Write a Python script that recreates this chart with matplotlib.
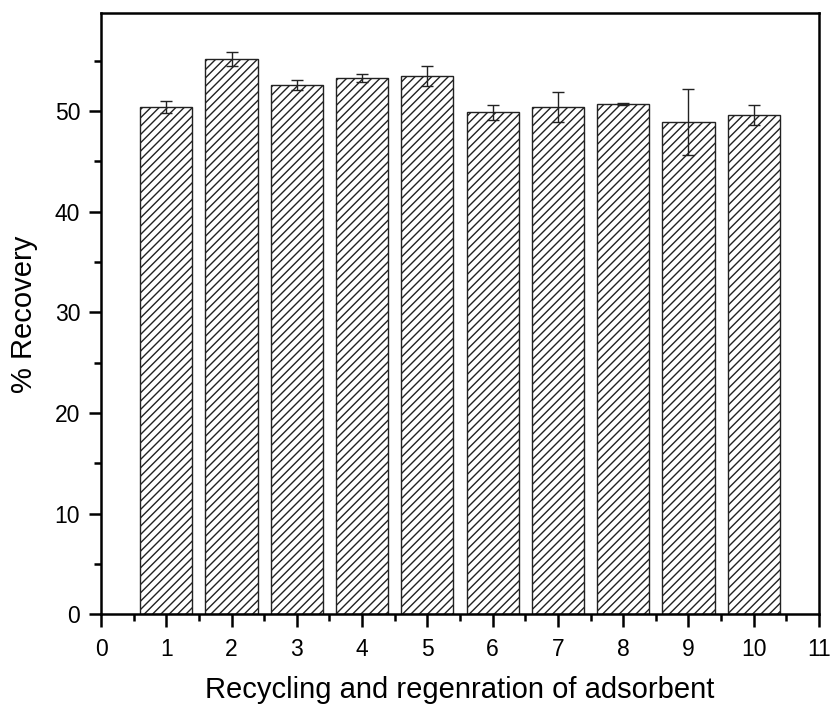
import matplotlib
matplotlib.use("Agg")
import matplotlib.pyplot as plt
from matplotlib.ticker import MultipleLocator

# cycles and % recovery
cycles = [1, 2, 3, 4, 5, 6, 7, 8, 9, 10]
recovery = [50.4, 55.2, 52.55, 53.25, 53.5, 49.9, 50.4, 50.7, 48.9, 49.6]
recovery_err = [0.6, 0.7, 0.5, 0.4, 1.0, 0.75, 1.5, 0.1, 3.3, 1.0]

plt.rcParams['font.family'] = ['Liberation Sans', 'DejaVu Sans']
plt.rcParams['hatch.linewidth'] = 1.0
plt.rcParams['hatch.color'] = '#333333'

fig = plt.figure(figsize=(8.3, 7.09), dpi=100)
ax = fig.add_axes([0.1217, 0.1333, 0.865, 0.8477])

ax.bar(cycles, recovery, width=0.8, color='white', edgecolor='#222222',
       linewidth=1.0, hatch='////')
ax.errorbar(cycles, recovery, yerr=recovery_err, fmt='none', ecolor='#222222',
            elinewidth=1.0, capsize=4.5, capthick=1.0)

ax.set_xlim(0, 11)
ax.set_ylim(0, 59.7)
ax.xaxis.set_major_locator(MultipleLocator(1))
ax.xaxis.set_minor_locator(MultipleLocator(0.5))
ax.yaxis.set_major_locator(MultipleLocator(10))
ax.yaxis.set_minor_locator(MultipleLocator(5))

for s in ax.spines.values():
    s.set_linewidth(1.8)
ax.tick_params(which='major', direction='out', length=9, width=1.8,
               labelsize=16.5, pad=6)
ax.tick_params(axis='x', which='major', pad=8)
ax.tick_params(which='minor', direction='out', length=5, width=1.8)
ax.tick_params(top=False, right=False, which='both')

ax.set_xlabel("Recycling and regenration of adsorbent", fontsize=21, labelpad=11)
ax.set_ylabel("% Recovery", fontsize=21, labelpad=12)

fig.savefig("out.png", dpi=100)
